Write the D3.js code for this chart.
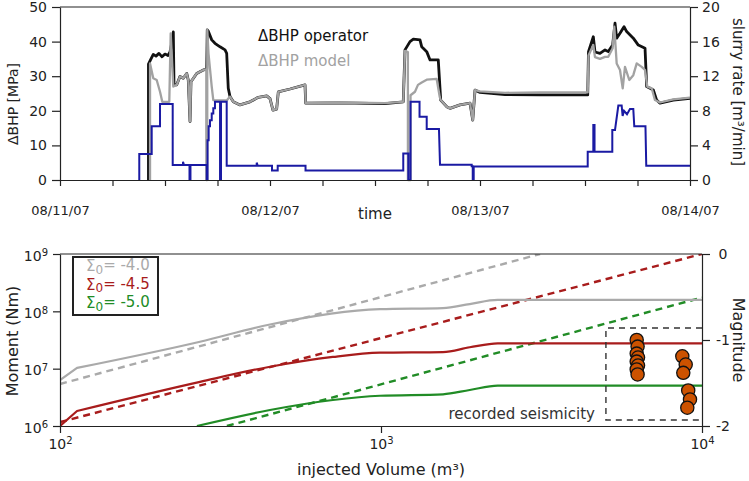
<!DOCTYPE html>
<html><head><meta charset="utf-8">
<script src="https://cdn.jsdelivr.net/npm/d3@7/dist/d3.min.js"></script>
<style>body{margin:0;background:#fff}svg{display:block;font-family:"DejaVu Sans",sans-serif}</style>
</head><body><svg id="c" width="749" height="481"></svg>
<script>
// ---------- TOP PANEL DATA (hours since 08/11/07 00:00) ----------
const dateLabels = ["08/11/07","08/12/07","08/13/07","08/14/07"];
const bhpTicks = [0,10,20,30,40,50];
const rateTicks = [0,4,8,12,16,20];
const seriesNames = ["\u0394BHP operator","\u0394BHP model"];

const bhpOperator = [[10.11,0],[10.11,33.5],[10.40,35.0],[10.66,36.3],[10.97,35.8],[11.31,36.6],[11.66,35.6],[12.00,36.4],[12.34,36.0],[12.57,37.0],[12.80,40.0],[12.95,42.8],[13.03,27.5],[13.34,27.5],[13.71,29.9],[14.09,29.4],[14.48,30.8],[14.66,28.9],[14.86,16.9],[14.97,28.4],[15.62,30.8],[16.38,31.8],[16.77,32.0],[16.83,43.4],[16.95,43.0],[17.34,40.5],[17.71,39.5],[18.29,38.5],[18.86,37.6],[19.05,36.6],[19.23,26.5],[19.43,24.1],[19.81,22.6],[20.57,21.7],[21.71,22.6],[22.66,23.9],[23.62,24.3],[24.0,23.5],[24.34,20.2],[24.76,20.5],[24.95,25.5],[26.29,26.3],[28.0,27.5],[28.08,22.2],[32.0,22.3],[37.14,22.1],[39.23,22.6],[39.43,37.6],[40.0,40.0],[40.38,40.7],[41.14,40.5],[41.34,38.5],[41.91,37.1],[42.29,34.7],[43.23,34.7],[43.51,23.1],[44.19,21.2],[44.57,20.7],[45.71,21.7],[46.86,22.2],[47.17,17.3],[47.43,26.0],[48.0,25.3],[50.86,24.7],[54.86,24.6],[60.31,24.6],[60.40,37.1],[60.95,41.4],[61.14,37.0],[61.71,36.6],[62.29,37.6],[62.66,37.1],[63.16,39.0],[63.43,45.3],[63.62,41.0],[64.0,42.4],[64.46,44.3],[64.76,42.9],[65.52,41.0],[66.09,39.0],[66.86,38.1],[67.05,27.0],[67.81,26.0],[68.19,23.1],[68.57,22.2],[70.09,23.1],[72,23.6]];

const bhpModel = [[10.29,0],[10.29,33.7],[10.66,29.4],[11.05,28.9],[11.43,25.5],[11.69,22.6],[12.49,22.6],[12.65,42.4],[12.95,27.0],[13.34,27.5],[13.71,29.9],[14.09,29.4],[14.48,30.8],[14.66,28.9],[14.86,16.9],[14.97,28.4],[15.62,30.8],[16.38,31.8],[16.72,32.0],[16.72,0],[16.83,0],[16.83,43.4],[16.97,36.6],[17.34,27.0],[17.52,23.1],[19.05,23.0],[19.43,24.1],[19.81,22.6],[20.57,21.7],[21.71,22.6],[22.66,23.9],[23.62,24.3],[24.0,23.5],[24.34,20.2],[24.76,20.5],[24.95,25.5],[26.29,26.3],[28.0,27.5],[28.08,22.2],[32.0,22.4],[37.14,22.2],[39.23,22.6],[39.43,37.3],[39.76,37.0],[39.76,0],[40.06,0],[40.06,24.5],[40.57,25.5],[40.91,27.5],[41.34,28.2],[41.91,29.0],[43.05,29.2],[43.40,24.0],[43.51,23.1],[44.19,21.2],[44.57,20.7],[45.71,21.7],[46.86,22.2],[47.17,17.3],[47.43,26.0],[48.0,25.6],[50.86,25.2],[54.86,25.3],[60.31,25.3],[60.40,36.0],[60.95,39.0],[61.14,35.5],[61.71,35.0],[62.29,35.6],[62.66,35.6],[63.16,38.1],[63.35,44.3],[63.62,33.7],[64.0,31.8],[64.31,26.5],[64.57,32.7],[65.06,28.9],[65.52,30.3],[65.91,33.7],[66.48,32.7],[66.86,31.8],[67.12,27.0],[67.62,26.5],[68.0,23.1],[68.57,22.4],[70.09,23.3],[72,23.8]];

const slurryRate = [[9.06,0],[9.06,3.0],[10.48,3.0],[10.48,6.2],[11.43,6.2],[11.43,8.8],[12.88,8.8],[12.88,1.73],[14.06,1.73],[14.06,2.1],[14.17,1.73],[14.80,1.73],[14.80,0],[14.91,0],[14.91,1.73],[16.77,1.73],[16.77,0],[16.86,0],[16.86,4.6],[16.99,4.6],[16.99,6.2],[17.14,6.2],[17.14,6.9],[17.34,6.9],[17.34,7.7],[17.52,7.7],[17.52,8.3],[17.71,8.3],[17.71,9.05],[18.29,9.05],[18.29,0],[18.40,0],[18.40,9.05],[19.05,9.05],[19.05,1.65],[22.48,1.65],[22.48,2.0],[22.6,1.65],[24.23,1.65],[24.23,1.1],[24.88,1.1],[24.88,1.65],[28.06,1.65],[28.06,1.1],[39.23,1.1],[39.23,3.05],[39.81,3.05],[39.81,0],[40.06,0],[40.06,9.05],[41.09,9.05],[41.09,7.3],[41.91,7.3],[41.91,5.9],[43.31,5.9],[43.43,1.75],[47.05,1.75],[47.05,1.6],[47.17,1.6],[47.17,0],[47.28,0],[47.28,1.55],[60.31,1.55],[60.31,3.27],[60.95,3.27],[60.95,6.36],[61.09,6.36],[61.09,3.27],[63.12,3.27],[63.12,5.78],[63.43,5.78],[63.81,8.6],[64.19,8.6],[64.30,7.4],[64.46,8.0],[64.80,7.6],[65.14,8.2],[65.52,8.2],[65.63,6.2],[66.91,6.2],[67.0,1.65],[72,1.65]];

// ---------- BOTTOM PANEL DATA ----------
const volumeTicks = [100,1000,10000];
const momentTicks = [1e6,1e7,1e8,1e9];
const magnitudeTicks = [0,-1,-2];
const sigmaLabels = ["-4.0","-4.5","-5.0"];
const modelSolid = [
  [[100,6.3e6],[113,1.03e7],[273,2.95e7],[451,5.9e7],[993,1.09e8],[1560,1.14e8],[1890,1.34e8],[2310,1.58e8],[10000,1.58e8]],
  [[100,1.0e6],[113,1.83e6],[273,5.9e6],[451,1.08e7],[708,1.6e7],[993,1.9e7],[1560,1.95e7],[1890,2.36e7],[2310,2.77e7],[10000,2.77e7]],
  [[267,1.0e6],[451,1.9e6],[708,2.84e6],[993,3.37e6],[1560,3.57e6],[1890,4.25e6],[2310,5.05e6],[10000,5.05e6]]
];
const solidHasKink = [true,true,false];
const modelDashed = [
  [[100,5.4e6],[3130,1e9]],
  [[100,1.17e6],[10000,1e9]],
  [[331,1e6],[10000,1.74e8]]
];
// recorded events: [volume m3, magnitude]
const events = [[6260,-1.0],[6300,-1.077],[6260,-1.158],[6320,-1.204],[6260,-1.251],[6320,-1.297],[6260,-1.343],[6300,-1.401],
                [8683,-1.189],[8897,-1.285],[8744,-1.382],[9058,-1.587],[9175,-1.691],[8999,-1.787]];
const seismicityBox = {v0:5020, v1:10000, m0:-0.86, m1:-1.93};

const lineColors = ["#aaaaaa","#a81c1c","#218c26"];

const svg = d3.select("#c");
const font = '"DejaVu Sans",sans-serif';

// ================= TOP PANEL =================
const T = {l:60, r:690, t:7, b:180};
const x1 = d3.scaleLinear().domain([0,72]).range([T.l,T.r]);
const yL = d3.scaleLinear().domain([0,50]).range([T.b,T.t]);
const yR = d3.scaleLinear().domain([0,20]).range([T.b,T.t]);

const gT = svg.append("g");
const bhpLine = d3.line().x(d=>x1(d[0])).y(d=>yL(d[1]));
const rateLine = d3.line().x(d=>x1(d[0])).y(d=>yR(d[1]));

gT.append("path").datum(bhpOperator).attr("d",bhpLine).attr("fill","none").attr("stroke","#111").attr("stroke-width",2.8).attr("stroke-linejoin","round");
gT.append("path").datum(bhpModel).attr("d",bhpLine).attr("fill","none").attr("stroke","#a2a2a2").attr("stroke-width",2.3).attr("stroke-linejoin","round");
gT.append("path").datum(slurryRate).attr("d",rateLine).attr("fill","none").attr("stroke","#1a1aa3").attr("stroke-width",2);

function styleAxis(g, fs){
  g.selectAll("path,line").attr("stroke","#222").attr("stroke-width",1.2);
  g.selectAll("text").attr("font-family",font).attr("font-size",fs).attr("fill","#222");
}
gT.append("line").attr("x1",T.l).attr("x2",T.r).attr("y1",T.t).attr("y2",T.t).attr("stroke","#222").attr("stroke-width",1.2);

const axX1 = gT.append("g").attr("transform",`translate(0,${T.b})`)
  .call(d3.axisBottom(x1).tickValues(d3.range(0,73,6)).tickSize(6).tickSizeOuter(0).tickPadding(20)
  .tickFormat(d => d%24===0 ? dateLabels[d/24] : ""));
styleAxis(axX1,13);
const axL1 = gT.append("g").attr("transform",`translate(${T.l},0)`)
  .call(d3.axisLeft(yL).tickValues(bhpTicks).tickSize(8).tickSizeOuter(0).tickPadding(5));
styleAxis(axL1,14);
const axR1 = gT.append("g").attr("transform",`translate(${T.r},0)`)
  .call(d3.axisRight(yR).tickValues(rateTicks).tickSize(8).tickSizeOuter(0).tickPadding(4));
styleAxis(axR1,14);

gT.append("text").attr("x",375).attr("y",219).attr("text-anchor","middle").attr("font-size",15).attr("fill","#222").text("time");
gT.append("text").attr("transform","translate(18,104) rotate(-90)").attr("text-anchor","middle").attr("font-size",14).attr("fill","#222").text("\u0394BHP [MPa]");
gT.append("text").attr("transform","translate(733,92) rotate(90)").attr("text-anchor","middle").attr("font-size",15).attr("fill","#222")
  .text("slurry rate [m\u00B3/min]");

gT.append("text").attr("x",258).attr("y",41).attr("font-size",15).attr("fill","#111").text(seriesNames[0]);
gT.append("text").attr("x",258).attr("y",66).attr("font-size",15).attr("fill","#a2a2a2").text(seriesNames[1]);

// ================= BOTTOM PANEL =================
const B = {l:60, r:702, t:254, b:426};
const xB = d3.scaleLog().domain([100,10000]).range([B.l,B.r]);
const yB = d3.scaleLog().domain([1e6,1e9]).range([B.b,B.t]);
const yM = d3.scaleLinear().domain([-2,0]).range([B.b,B.t]);

const gB = svg.append("g");
svg.append("defs").append("clipPath").attr("id","clipB").append("rect")
  .attr("x",B.l).attr("y",B.t).attr("width",B.r-B.l).attr("height",B.b-B.t);

const mLine = d3.line().x(d=>xB(d[0])).y(d=>yB(d[1]));
const mCurve = d3.line().x(d=>xB(d[0])).y(d=>yB(d[1])).curve(d3.curveMonotoneX);
const gLines = gB.append("g").attr("clip-path","url(#clipB)");
modelDashed.forEach((s,i)=>{
  gLines.append("path").datum(s).attr("d",mLine).attr("fill","none").attr("stroke",lineColors[i])
    .attr("stroke-width",2.4).attr("stroke-dasharray","7,5");
});
modelSolid.forEach((s,i)=>{
  const d = solidHasKink[i] ? mLine(s.slice(0,2)) + mCurve(s.slice(1)).replace(/^M/,"L") : mCurve(s);
  gLines.append("path").attr("d",d).attr("fill","none").attr("stroke",lineColors[i]).attr("stroke-width",2.2).attr("stroke-linejoin","round");
});

// seismicity box
const bx0 = xB(seismicityBox.v0), bx1 = xB(seismicityBox.v1), by0 = yM(seismicityBox.m0), by1 = yM(seismicityBox.m1);
gB.append("path").attr("d",`M${bx1},${by0}H${bx0}V${by1}H${bx1}`).attr("fill","none").attr("stroke","#333")
  .attr("stroke-width",1.4).attr("stroke-dasharray","6,5");
gB.append("text").attr("x",bx0-11).attr("y",by1-1).attr("text-anchor","end").attr("font-size",15).attr("fill","#333").text("recorded seismicity");

gB.selectAll("circle.ev").data(events).join("circle").attr("class","ev")
  .attr("cx",d=>xB(d[0])).attr("cy",d=>yM(d[1])).attr("r",6.6)
  .attr("fill","#cc5200").attr("stroke","#111").attr("stroke-width",1.3);

// axes
gB.append("line").attr("x1",B.l).attr("x2",B.r).attr("y1",B.t).attr("y2",B.t).attr("stroke","#222").attr("stroke-width",1.2);
function pow10(sel){
  sel.selectAll(".tick text").each(function(d){
    const t = d3.select(this); t.text(null);
    t.append("tspan").text("10");
    t.append("tspan").attr("dy","-0.45em").attr("font-size",10).text(Math.round(Math.log10(d)));
  });
}
const axXB = gB.append("g").attr("transform",`translate(0,${B.b})`)
  .call(d3.axisBottom(xB).tickValues(volumeTicks).tickSize(7).tickSizeOuter(0).tickPadding(6));
styleAxis(axXB,14); pow10(axXB);
const axLB = gB.append("g").attr("transform",`translate(${B.l},0)`)
  .call(d3.axisLeft(yB).tickValues(momentTicks).tickSize(7).tickSizeOuter(0).tickPadding(5));
styleAxis(axLB,14); pow10(axLB);
axLB.selectAll(".tick text").attr("dy","0.45em");
const axRB = gB.append("g").attr("transform",`translate(${B.r},0)`)
  .call(d3.axisRight(yM).tickValues(magnitudeTicks).tickSize(8).tickSizeOuter(0).tickPadding(4).tickFormat(d => String(d)));
styleAxis(axRB,14);
axRB.selectAll(".tick text").attr("text-anchor","middle").attr("x",21);

gB.append("text").attr("x",381).attr("y",475).attr("text-anchor","middle").attr("font-size",16).attr("fill","#222").text("injected Volume (m\u00B3)");
gB.append("text").attr("transform","translate(18,341) rotate(-90)").attr("text-anchor","middle").attr("font-size",16).attr("fill","#222").text("Moment (Nm)");
gB.append("text").attr("transform","translate(733,340) rotate(90)").attr("text-anchor","middle").attr("font-size",16).attr("fill","#222").text("Magnitude");

// legend
const lg = gB.append("g");
lg.append("rect").attr("x",73).attr("y",257).attr("width",85).attr("height",58).attr("fill","#fff").attr("stroke","#222").attr("stroke-width",2);
sigmaLabels.forEach((s,i)=>{
  const t = lg.append("text").attr("x",86).attr("y",271+i*18.5).attr("font-size",15).attr("fill",lineColors[i]);
  t.append("tspan").text("\u03A3");
  t.append("tspan").attr("dy","0.22em").attr("font-size",12).text("0");
  t.append("tspan").attr("dy","-0.22em").text("= "+s);
});
</script></body></html>
